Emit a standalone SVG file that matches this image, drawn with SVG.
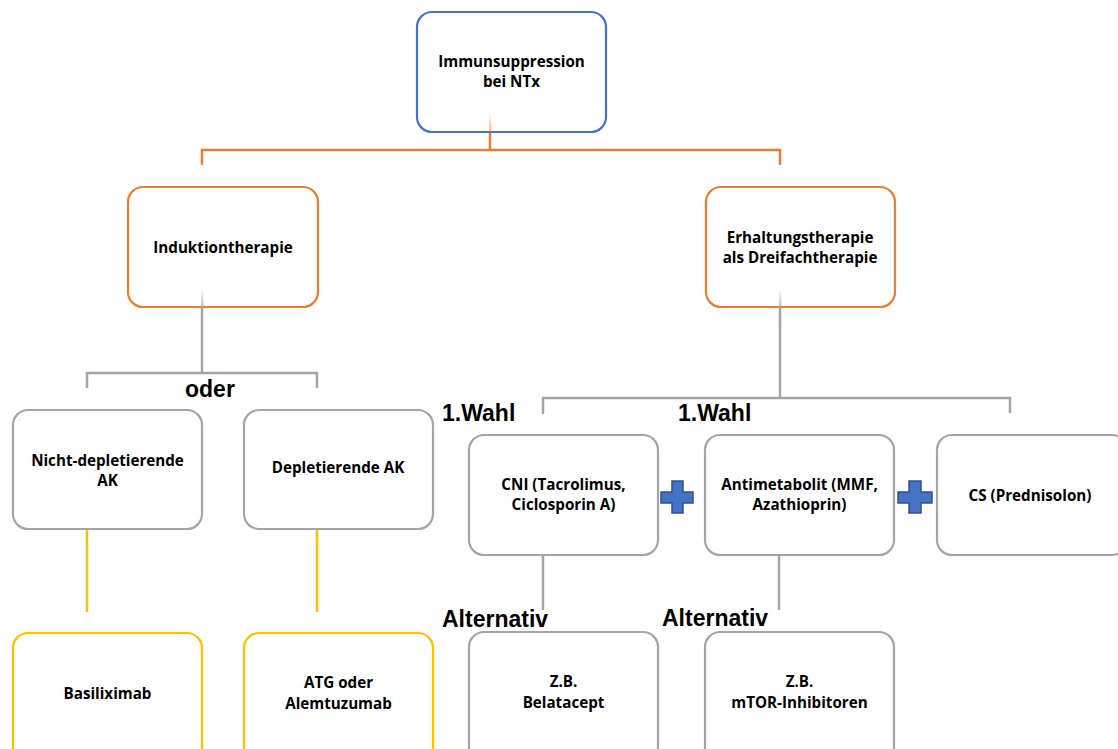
<svg xmlns="http://www.w3.org/2000/svg" width="1118" height="749" viewBox="0 0 1118 749">
<defs>
<style>
.box{fill:#fff;stroke-width:2.2}
.blue{stroke:#4472C4}
.orange{stroke:#ED7D31}
.gray{stroke:#A5A5A5}
.yellow{stroke:#FFC000}
.t{font-family:"Open Sans","Noto Sans",sans-serif;font-weight:700;font-size:15.2px;fill:#000;text-anchor:middle}
.lbl{font-family:"Liberation Sans",Arial,sans-serif;font-weight:700;font-size:23px;fill:#000}
.ln{fill:none;stroke-width:2.5}
.plus{fill:#4472C4;stroke:#2F528F;stroke-width:1.5}
</style>
<linearGradient id="fo" x1="0" y1="0" x2="0" y2="1"><stop offset="0" stop-color="#ED7D31" stop-opacity="0"/><stop offset="1" stop-color="#ED7D31" stop-opacity="0.6"/></linearGradient>
<linearGradient id="fg" x1="0" y1="0" x2="0" y2="1"><stop offset="0" stop-color="#A5A5A5" stop-opacity="0"/><stop offset="1" stop-color="#A5A5A5" stop-opacity="0.7"/></linearGradient>
</defs>
<g id="connectors">
<polyline class="ln orange" points="202,165 202,150 780,150 780,165"/>
<line class="ln orange" x1="490" y1="132" x2="490" y2="150"/>
<line class="ln gray" x1="202" y1="307" x2="202" y2="373"/>
<polyline class="ln gray" points="87,388 87,373 317,373 317,388"/>
<line class="ln gray" x1="780" y1="307" x2="780" y2="398"/>
<polyline class="ln gray" points="543,414 543,398 1010,398 1010,413"/>
<line class="ln yellow" x1="87" y1="529" x2="87" y2="612"/>
<line class="ln yellow" x1="317" y1="529" x2="317" y2="612"/>
<line class="ln gray" x1="543" y1="555" x2="543" y2="610"/>
<line class="ln gray" x1="779" y1="555" x2="779" y2="610"/>
</g>
<g id="n-top">
<rect class="box blue" x="417" y="12" width="189" height="120" rx="15"/>
<rect x="489" y="114" width="2.5" height="18" fill="url(#fo)"/>
<text class="t" x="511.5" y="67">Immunsuppression</text>
<text class="t" x="511.5" y="87">bei NTx</text>
</g>
<g id="n-induktion">
<rect class="box orange" x="128" y="187" width="190" height="120" rx="15"/>
<rect x="201" y="289" width="2.5" height="18" fill="url(#fg)"/>
<text class="t" x="223" y="253">Induktiontherapie</text>
</g>
<g id="n-erhaltung">
<rect class="box orange" x="706" y="187" width="189" height="120" rx="15"/>
<rect x="779" y="289" width="2.5" height="18" fill="url(#fg)"/>
<text class="t" x="800" y="243">Erhaltungstherapie</text>
<text class="t" x="800" y="263">als Dreifachtherapie</text>
</g>
<g id="n-nicht">
<rect class="box gray" x="13" y="410" width="189" height="119" rx="15"/>
<text class="t" x="107.5" y="466">Nicht-depletierende</text>
<text class="t" x="107.5" y="486">AK</text>
</g>
<g id="n-depl">
<rect class="box gray" x="244" y="410" width="189" height="119" rx="15"/>
<text class="t" x="338" y="473">Depletierende AK</text>
</g>
<g id="n-basi">
<rect class="box yellow" x="13" y="633" width="189" height="130" rx="15"/>
<text class="t" x="107.5" y="699">Basiliximab</text>
</g>
<g id="n-atg">
<rect class="box yellow" x="244" y="633" width="189" height="130" rx="15"/>
<text class="t" x="338.5" y="688">ATG oder</text>
<text class="t" x="338.5" y="709">Alemtuzumab</text>
</g>
<g id="n-cni">
<rect class="box gray" x="469" y="435" width="189" height="120" rx="15"/>
<text class="t" x="563.5" y="490">CNI (Tacrolimus,</text>
<text class="t" x="563.5" y="510">Ciclosporin A)</text>
</g>
<g id="n-anti">
<rect class="box gray" x="705" y="435" width="189" height="120" rx="15"/>
<text class="t" x="799.5" y="490">Antimetabolit (MMF,</text>
<text class="t" x="799.5" y="510">Azathioprin)</text>
</g>
<g id="n-cs">
<rect class="box gray" x="937" y="435" width="190" height="120" rx="15"/>
<text class="t" x="1030" y="501">CS (Prednisolon)</text>
</g>
<g id="n-bela">
<rect class="box gray" x="469" y="632" width="189" height="130" rx="15"/>
<text class="t" x="563.5" y="687">Z.B.</text>
<text class="t" x="563.5" y="708">Belatacept</text>
</g>
<g id="n-mtor">
<rect class="box gray" x="705" y="632" width="189" height="130" rx="15"/>
<text class="t" x="799.5" y="687">Z.B.</text>
<text class="t" x="799.5" y="708">mTOR-Inhibitoren</text>
</g>
<g id="plus1">
<polygon class="plus" points="672,481 683,481 683,492 693,492 693,503 683,503 683,513 672,513 672,503 661,503 661,492 672,492"/>
</g>
<g id="plus2">
<polygon class="plus" points="909,481 921,481 921,492 932,492 932,503 921,503 921,513 909,513 909,503 898,503 898,492 909,492"/>
</g>
<g id="labels">
<text class="lbl" x="185" y="397">oder</text>
<text class="lbl" x="442" y="421">1.Wahl</text>
<text class="lbl" x="678" y="421">1.Wahl</text>
<text class="lbl" x="442" y="627">Alternativ</text>
<text class="lbl" x="662" y="626">Alternativ</text>
</g>
</svg>
